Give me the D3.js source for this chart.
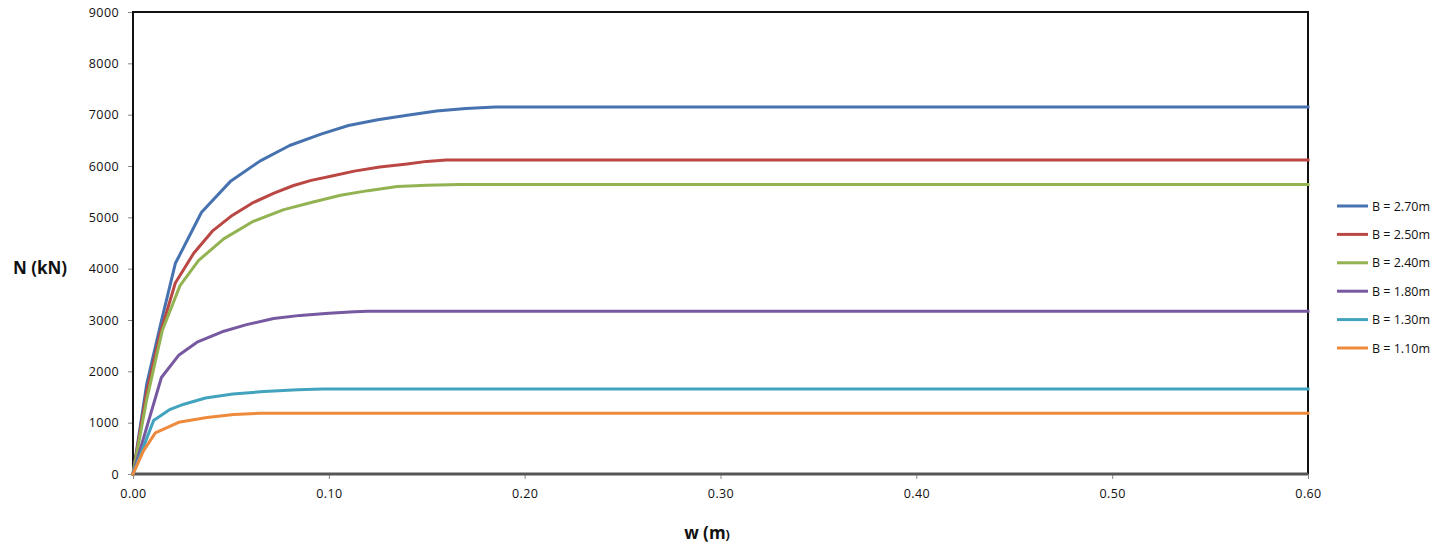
<!DOCTYPE html>
<html>
<head>
<meta charset="utf-8">
<script src="https://cdn.jsdelivr.net/npm/d3@7"></script>
<style>
  body { margin: 0; background: #fff; }
  svg { display: block; font-family: "Open Sans", sans-serif; }
</style>
</head>
<body>
<div id="chart"></div>
<script>
// series values: [w (m), N (kN)]
const b270 = [[0,0],[0.007,1750],[0.014,2900],[0.0216,4100],[0.035,5100],[0.05,5710],[0.065,6100],[0.08,6400],[0.096,6620],[0.11,6790],[0.125,6900],[0.14,6990],[0.155,7070],[0.17,7120],[0.185,7150],[0.6,7150]];
const b250 = [[0,0],[0.007,1600],[0.014,2750],[0.0216,3720],[0.031,4300],[0.0405,4730],[0.05,5020],[0.061,5280],[0.072,5470],[0.082,5620],[0.091,5720],[0.101,5800],[0.113,5900],[0.126,5980],[0.14,6040],[0.15,6090],[0.16,6118],[0.6,6118]];
const b240 = [[0,0],[0.007,1450],[0.015,2800],[0.024,3670],[0.0335,4160],[0.0463,4580],[0.0608,4910],[0.077,5150],[0.092,5300],[0.106,5430],[0.12,5520],[0.135,5600],[0.15,5625],[0.167,5638],[0.6,5638]];
const b180 = [[0,0],[0.0145,1880],[0.0235,2320],[0.0327,2567],[0.0455,2770],[0.058,2910],[0.0718,3030],[0.0854,3090],[0.1,3130],[0.113,3160],[0.12,3172],[0.6,3172]];
const b130 = [[0,0],[0.0105,1040],[0.019,1260],[0.026,1360],[0.037,1480],[0.051,1560],[0.067,1606],[0.084,1640],[0.097,1658],[0.6,1658]];
const b110 = [[0,0],[0.0054,455],[0.0114,800],[0.0233,1007],[0.0378,1100],[0.0514,1160],[0.065,1182],[0.6,1182]];

const seriesNames = ['B = 2.70m', 'B = 2.50m', 'B = 2.40m', 'B = 1.80m', 'B = 1.30m', 'B = 1.10m'];
const seriesData = [b270, b250, b240, b180, b130, b110];
const seriesColors = ['#4672B0', '#BA4744', '#93B352', '#7659A0', '#41A3BD', '#EE8A3C'];

const xTicks = [0, 0.1, 0.2, 0.3, 0.4, 0.5, 0.6];
const yTicks = [0, 1000, 2000, 3000, 4000, 5000, 6000, 7000, 8000, 9000];

const svgWidth = 1450, svgHeight = 548;
const margin = { top: 12, left: 133, right: 142, bottom: 74 };
const width = svgWidth - margin.left - margin.right;
const height = svgHeight - margin.top - margin.bottom;

const svg = d3.select('#chart').append('svg')
    .attr('width', svgWidth)
    .attr('height', svgHeight);

const g = svg.append('g')
    .attr('transform', `translate(${margin.left},${margin.top})`);

const x = d3.scaleLinear().domain([0, 0.6]).range([0, width]);
const y = d3.scaleLinear().domain([0, 9000]).range([height, 0]);

// y axis
const yAxis = g.append('g')
    .call(d3.axisLeft(y).tickValues(yTicks).tickFormat(d3.format('d')).tickSize(5).tickPadding(9));
yAxis.select('.domain').remove();
yAxis.selectAll('line').attr('stroke', '#888');
yAxis.selectAll('text').attr('font-size', 12.5).attr('fill', '#111').style('letter-spacing', '0.4px')
    .attr('font-family', '"Open Sans", sans-serif');

// x axis
const xAxis = g.append('g')
    .attr('transform', `translate(0,${height})`)
    .call(d3.axisBottom(x).tickValues(xTicks).tickFormat(d3.format('.2f')).tickSize(5).tickPadding(10));
xAxis.select('.domain').remove();
xAxis.selectAll('line').attr('stroke', '#888');
xAxis.selectAll('text').attr('font-size', 12.5).attr('fill', '#111').style('letter-spacing', '0.4px')
    .attr('font-family', '"Open Sans", sans-serif');

// frame
g.append('path')
    .attr('d', `M0,${height}V0H${width}V${height}`)
    .attr('fill', 'none')
    .attr('stroke', '#111')
    .attr('stroke-width', 2);
g.append('line')
    .attr('x1', 0).attr('x2', width)
    .attr('y1', height).attr('y2', height)
    .attr('stroke', '#555')
    .attr('stroke-width', 3);

// series lines, drawn over the frame as in the original
const line = d3.line()
    .x(d => x(d[0]))
    .y(d => y(d[1]));

g.selectAll('.series')
    .data(seriesData)
    .enter()
    .append('path')
    .attr('class', 'series')
    .attr('d', line)
    .attr('fill', 'none')
    .attr('stroke', (d, i) => seriesColors[i])
    .attr('stroke-width', 3)
    .attr('stroke-linejoin', 'round')
    .attr('stroke-linecap', 'square');

// axis titles
svg.append('text')
    .attr('x', 40).attr('y', 274)
    .attr('text-anchor', 'middle')
    .attr('font-size', 17).attr('font-weight', 'bold')
    .attr('fill', '#111')
    .text('N (kN)');

const xt = svg.append('text')
    .attr('x', 707).attr('y', 539)
    .attr('text-anchor', 'middle')
    .attr('font-size', 17).attr('font-weight', 'bold')
    .attr('fill', '#111');
xt.append('tspan').text('w (m');
xt.append('tspan').attr('font-size', 12.5).text(')');

// legend
const legend = svg.append('g')
    .attr('transform', 'translate(1337,206)');
const items = legend.selectAll('g')
    .data(seriesNames)
    .enter()
    .append('g')
    .attr('transform', (d, i) => `translate(0,${i * 28.4})`);
items.append('line')
    .attr('x1', 0).attr('x2', 31)
    .attr('stroke', (d, i) => seriesColors[i])
    .attr('stroke-width', 3);
items.append('text')
    .attr('x', 35).attr('y', 4.5)
    .attr('font-size', 12.5)
    .attr('fill', '#111')
    .text(d => d);
</script>
</body>
</html>
